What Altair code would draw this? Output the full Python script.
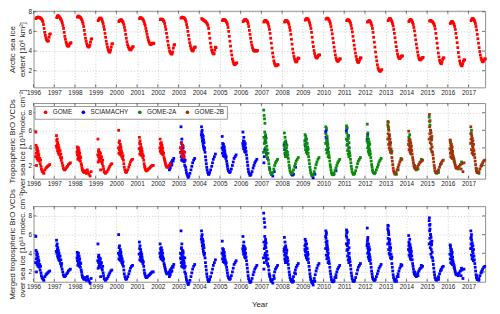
import altair as alt
import pandas as pd

YEARS = list(range(1996, 2018))
YTICKS = [2, 4, 6, 8]
INSTRUMENTS = ["GOME", "SCIAMACHY", "GOME-2A", "GOME-2B"]
COLORS = ["#ff0000", "#0000ff", "#0a8a0a", "#a0320a"]

# ---- Arctic sea ice extent (10^6 km^2), sampled at fractions of each year
ICE_OFF = [0.12, 0.15, 0.18, 0.21, 0.24, 0.27, 0.30, 0.33, 0.36, 0.39, 0.42, 0.45,
           0.48, 0.51, 0.54, 0.57, 0.60, 0.63, 0.66, 0.69, 0.72, 0.75, 0.78, 0.81]
ICE = {
    1996: [7.3, 7.4, 7.4, 7.45, 7.45, 7.4, 7.4, 7.35, 7.3, 7.25, 7.15, 7.0, 6.7, 6.3, 5.9, 5.6, 5.35, 5.15, 5.05, 5.0, 5.05, 5.4, 5.7, 5.75],
    1997: [7.4, 7.55, 7.6, 7.55, 7.5, 7.4, 7.3, 7.2, 7.05, 6.85, 6.6, 6.3, 5.9, 5.5, 5.2, 4.9, 4.7, 4.55, 4.5, 4.5, 4.6, 4.75, 4.8, 4.85],
    1998: [7.45, 7.55, 7.55, 7.5, 7.45, 7.4, 7.3, 7.2, 7.0, 6.8, 6.5, 6.1, 5.7, 5.3, 5.0, 4.75, 4.55, 4.45, 4.4, 4.45, 4.6, 4.9, 5.2, 5.25],
    1999: [7.1, 7.2, 7.3, 7.35, 7.35, 7.3, 7.2, 7.0, 6.8, 6.5, 6.2, 5.8, 5.4, 5.0, 4.7, 4.4, 4.15, 4.0, 3.9, 3.9, 4.1, 4.4, 4.7, 4.75],
    2000: [7.0, 7.1, 7.15, 7.15, 7.2, 7.1, 7.0, 6.9, 6.7, 6.4, 6.1, 5.7, 5.3, 4.95, 4.65, 4.45, 4.3, 4.2, 4.15, 4.1, 4.2, 4.3, 4.4, 4.45],
    2001: [7.3, 7.4, 7.4, 7.35, 7.3, 7.25, 7.15, 7.0, 6.8, 6.6, 6.3, 6.0, 5.7, 5.4, 5.15, 4.95, 4.8, 4.7, 4.65, 4.7, 4.75, 4.8, 4.75, 4.8],
    2002: [7.2, 7.25, 7.25, 7.2, 7.2, 7.1, 7.0, 6.8, 6.5, 6.2, 5.8, 5.4, 5.0, 4.6, 4.3, 4.0, 3.85, 3.75, 3.7, 3.7, 3.9, 4.3, 4.6, 4.65],
    2003: [7.35, 7.4, 7.45, 7.4, 7.4, 7.35, 7.3, 7.2, 7.0, 6.7, 6.4, 6.0, 5.6, 5.2, 4.85, 4.55, 4.3, 4.15, 4.05, 4.0, 4.1, 4.3, 4.4, 4.4],
    2004: [7.3, 7.25, 7.2, 7.15, 7.1, 7.05, 7.0, 6.95, 6.85, 6.75, 6.6, 6.3, 5.8, 5.3, 4.8, 4.4, 4.1, 3.9, 3.8, 3.7, 3.75, 4.1, 4.4, 4.35],
    2005: [7.1, 7.2, 7.2, 7.2, 7.15, 7.1, 7.0, 6.9, 6.7, 6.4, 6.0, 5.5, 5.0, 4.5, 4.0, 3.6, 3.2, 2.95, 2.75, 2.65, 2.6, 2.7, 2.75, 2.8],
    2006: [7.0, 7.1, 7.15, 7.2, 7.2, 7.15, 7.1, 7.0, 6.8, 6.5, 6.1, 5.7, 5.3, 4.9, 4.6, 4.35, 4.15, 4.05, 4.0, 4.0, 4.05, 4.0, 4.0, 4.05],
    2007: [6.95, 7.05, 7.1, 7.1, 7.05, 7.0, 6.9, 6.75, 6.5, 6.2, 5.8, 5.3, 4.8, 4.3, 3.8, 3.4, 3.0, 2.75, 2.6, 2.5, 2.5, 2.55, 2.6, 2.6],
    2008: [6.95, 7.05, 7.1, 7.1, 7.05, 7.0, 6.9, 6.7, 6.4, 6.1, 5.7, 5.2, 4.7, 4.2, 3.8, 3.45, 3.2, 3.0, 2.9, 2.9, 3.0, 3.2, 3.3, 3.25],
    2009: [7.15, 7.25, 7.3, 7.3, 7.25, 7.2, 7.05, 6.85, 6.6, 6.3, 5.9, 5.4, 4.9, 4.45, 4.05, 3.75, 3.5, 3.35, 3.3, 3.3, 3.4, 3.55, 3.6, 3.6],
    2010: [7.25, 7.3, 7.35, 7.3, 7.25, 7.15, 7.0, 6.8, 6.5, 6.15, 5.75, 5.3, 4.85, 4.4, 4.0, 3.6, 3.3, 3.1, 3.0, 2.95, 3.0, 3.1, 3.2, 3.2],
    2011: [7.1, 7.15, 7.2, 7.15, 7.1, 7.0, 6.85, 6.6, 6.3, 5.95, 5.5, 5.05, 4.6, 4.2, 3.8, 3.45, 3.15, 2.95, 2.85, 2.85, 2.95, 3.15, 3.3, 3.3],
    2012: [6.95, 7.0, 7.05, 7.1, 7.05, 6.95, 6.8, 6.6, 6.3, 5.9, 5.4, 4.9, 4.4, 3.9, 3.4, 3.0, 2.6, 2.3, 2.1, 2.0, 1.95, 1.95, 2.05, 2.1],
    2013: [7.1, 7.2, 7.3, 7.3, 7.25, 7.15, 7.0, 6.8, 6.55, 6.2, 5.8, 5.35, 4.9, 4.45, 4.05, 3.7, 3.45, 3.3, 3.25, 3.25, 3.35, 3.45, 3.5, 3.5],
    2014: [7.0, 7.1, 7.2, 7.2, 7.15, 7.05, 6.9, 6.7, 6.4, 6.05, 5.6, 5.15, 4.7, 4.3, 3.9, 3.55, 3.3, 3.15, 3.1, 3.1, 3.2, 3.3, 3.3, 3.35],
    2015: [7.05, 7.1, 7.1, 7.05, 7.0, 6.95, 6.85, 6.75, 6.55, 6.25, 5.8, 5.3, 4.8, 4.3, 3.8, 3.4, 3.05, 2.85, 2.75, 2.7, 2.9, 3.15, 3.3, 3.3],
    2016: [6.8, 6.9, 7.0, 7.0, 6.95, 6.85, 6.7, 6.5, 6.2, 5.8, 5.35, 4.85, 4.35, 3.85, 3.4, 3.0, 2.75, 2.6, 2.5, 2.5, 2.7, 2.95, 3.1, 3.1],
    2017: [7.1, 7.2, 7.3, 7.3, 7.25, 7.15, 7.0, 6.8, 6.5, 6.15, 5.7, 5.25, 4.8, 4.35, 3.95, 3.6, 3.3, 3.1, 2.95, 2.9, 2.95, 3.1, 3.2, 3.2],
}

# ---- Tropospheric BrO VCDs over sea ice (10^13 molec cm^-2)
BRO_OFF = [0.10, 0.11, 0.12, 0.13, 0.14, 0.15, 0.16, 0.17, 0.18, 0.19, 0.20, 0.21,
           0.22, 0.23, 0.24, 0.26, 0.28, 0.30, 0.32, 0.34, 0.36, 0.38, 0.41, 0.44,
           0.47, 0.50, 0.55, 0.60, 0.64, 0.68, 0.73, 0.78]
BRO = {
    1996: [3.0, 5.8, 4.3, 3.4, 2.0, 3.8, 4.1, 2.8, 3.5, 3.9, 3.1, 2.6, 3.6, 3.3, 2.9, 3.2, 2.5, 2.8, 2.2, 2.6, 1.9, 1.6, 1.4, 1.3, 1.2, 1.1, 1.5, 1.7, 1.8, 1.9, 2.0, 2.1],
    1997: [4.2, 5.4, 4.8, 4.0, 5.0, 4.4, 3.7, 4.6, 4.1, 3.5, 4.3, 3.8, 3.3, 4.0, 3.6, 3.2, 3.7, 2.9, 3.3, 2.6, 2.9, 2.3, 2.0, 1.7, 1.55, 1.5, 1.6, 1.8, 1.9, 2.1, 2.2, 2.3],
    1998: [3.5, 4.1, 3.2, 3.8, 2.7, 3.6, 3.0, 4.0, 3.3, 2.8, 3.7, 3.1, 2.6, 3.4, 3.0, 2.5, 2.9, 2.2, 2.0, 1.7, 1.5, 1.4, 1.3, 1.2, 1.4, 1.3, 1.1, 1.5, 1.2, 1.0, 0.8, 1.3],
    1999: [3.2, 5.0, 2.4, 3.6, 3.0, 3.8, 2.6, 3.3, 2.9, 3.5, 2.5, 3.1, 2.7, 3.4, 1.5, 2.8, 3.0, 2.4, 2.2, 2.6, 1.9, 1.6, 1.3, 1.2, 1.1, 1.2, 1.3, 1.5, 1.7, 1.9, 2.1, 2.2],
    2000: [4.0, 6.0, 3.4, 4.6, 3.8, 4.8, 3.3, 4.2, 3.6, 4.4, 3.9, 3.2, 4.1, 3.5, 3.7, 3.0, 3.4, 2.8, 3.1, 2.6, 2.2, 1.8, 1.5, 1.3, 1.2, 1.3, 1.5, 1.8, 2.1, 2.4, 2.6, 2.7],
    2001: [3.9, 5.2, 4.5, 3.3, 4.8, 4.0, 3.6, 4.4, 3.2, 4.1, 3.7, 3.4, 3.9, 3.1, 3.6, 3.3, 2.9, 3.1, 2.6, 2.2, 1.9, 1.7, 1.5, 1.4, 1.4, 1.5, 1.6, 1.7, 1.8, 1.9, 2.0, 2.0],
    2002: [4.0, 5.0, 3.6, 4.5, 3.8, 4.2, 3.4, 4.6, 3.9, 3.5, 4.3, 3.7, 3.3, 4.0, 3.6, 3.2, 3.4, 2.9, 2.7, 2.5, 2.3, 2.1, 1.9, 1.8, 1.8, 1.9, 2.0, 2.2, None, None, None, None],
    2003: [3.5, 4.0, 6.4, 3.0, 4.6, 2.6, 5.0, 3.8, 2.9, 4.3, 3.3, 2.5, 4.0, 3.6, 2.8, 3.1, 2.4, 2.0, 2.6, 1.8, 1.5, 1.2, 1.0, 0.8, 0.65, 0.8, 1.1, 1.5, 1.9, 2.3, 2.6, 2.8],
    2004: [5.5, 6.4, 5.8, 5.2, 6.0, 4.8, 5.5, 5.0, 4.5, 5.3, 4.2, 4.9, 4.0, 4.6, 3.8, 4.0, 3.5, 3.0, 2.6, 2.2, 1.8, 1.5, 1.2, 1.0, 1.0, 1.2, 1.5, 1.9, 2.3, 2.7, 3.0, 3.3],
    2005: [4.0, 5.3, 3.4, 4.5, 3.8, 4.2, 3.1, 4.4, 3.6, 3.9, 3.3, 4.1, 3.0, 3.7, 3.4, 3.2, 2.8, 3.0, 2.5, 2.2, 1.9, 1.6, 1.4, 1.3, 1.2, 1.3, 1.6, 2.0, 2.4, 2.8, 3.0, 3.2],
    2006: [4.5, 5.8, 4.2, 4.8, 3.9, 5.2, 4.4, 4.0, 4.7, 3.6, 4.3, 3.8, 4.5, 3.5, 4.0, 3.6, 3.2, 2.8, 2.4, 2.0, 1.6, 1.3, 1.1, 0.9, 0.9, 1.0, 1.3, 1.7, 2.0, 2.3, 2.5, 2.7],
    2007: [3.5, 8.3, 5.2, 7.7, 4.5, 7.3, 5.8, 6.8, 4.9, 4.0, 5.5, 3.6, 4.6, 5.1, 3.2, 4.2, 3.8, 2.9, 3.4, 2.6, 2.2, 1.8, 1.5, 1.2, 1.1, 1.0, 1.2, 1.6, 2.0, 2.3, 2.5, 2.7],
    2008: [4.2, 5.7, 4.6, 3.4, 5.2, 4.0, 3.0, 4.8, 3.7, 4.4, 3.3, 4.0, 3.6, 4.3, 3.1, 3.5, 3.2, 2.8, 2.4, 2.0, 1.7, 1.4, 1.2, 1.1, 1.1, 1.2, 1.5, 1.9, 2.2, 2.5, 2.7, 2.9],
    2009: [4.4, 5.5, 4.9, 3.8, 5.3, 4.2, 4.6, 3.5, 5.0, 4.0, 3.7, 4.5, 3.3, 4.1, 3.8, 3.4, 3.0, 2.6, 2.2, 1.8, 1.5, 1.2, 1.0, 0.9, 0.85, 1.0, 1.3, 1.7, 2.1, 2.4, 2.7, 2.9],
    2010: [4.5, 6.4, 5.6, 3.8, 6.2, 4.9, 3.4, 5.3, 4.2, 4.7, 3.6, 4.4, 3.0, 4.0, 3.5, 3.2, 2.9, 2.5, 2.1, 1.8, 1.5, 1.2, 1.0, 0.95, 0.95, 1.1, 1.4, 1.7, 2.0, 2.3, 2.5, 2.7],
    2011: [5.0, 6.5, 5.7, 4.3, 6.3, 4.8, 3.7, 5.4, 4.4, 3.3, 5.1, 4.0, 3.0, 4.6, 3.6, 3.4, 3.1, 2.7, 2.3, 1.9, 1.6, 1.3, 1.1, 1.0, 1.0, 1.1, 1.4, 1.8, 2.2, 2.5, 2.7, 2.9],
    2012: [4.8, 6.7, 5.3, 4.0, 5.7, 4.5, 3.6, 5.0, 4.2, 3.4, 4.7, 3.9, 3.2, 4.4, 3.6, 3.3, 2.9, 2.5, 2.1, 1.8, 1.5, 1.3, 1.2, 1.1, 1.1, 1.2, 1.5, 1.8, 2.1, 2.4, 2.6, 2.8],
    2013: [5.0, 7.0, 5.6, 6.4, 4.4, 6.0, 5.2, 4.0, 5.5, 4.7, 3.8, 5.0, 4.3, 3.5, 4.6, 3.9, 3.4, 2.9, 2.5, 2.1, 1.7, 1.4, 1.2, 1.1, 1.1, 1.2, 1.5, 1.8, 2.1, 2.4, 2.6, 2.7],
    2014: [4.4, 5.9, 4.8, 3.8, 5.0, 4.2, 4.6, 3.6, 4.9, 4.0, 3.4, 4.5, 3.9, 3.3, 4.2, 3.7, 3.3, 2.9, 2.6, 2.3, 2.0, 1.8, 1.7, 1.6, 1.6, 1.7, 1.9, 2.1, 2.3, 2.4, 2.5, 2.6],
    2015: [5.0, 7.8, 6.4, 5.6, 7.1, 4.6, 6.0, 5.2, 3.9, 5.7, 4.4, 4.9, 3.6, 5.3, 4.1, 3.5, 3.2, 2.8, 2.4, 2.0, 1.7, 1.4, 1.2, 1.2, 1.2, 1.3, 1.5, 1.8, 2.1, 2.3, 2.5, 2.6],
    2016: [3.9, 4.9, 3.4, 4.6, 3.0, 4.2, 3.7, 4.4, 2.9, 3.9, 3.3, 4.1, 2.8, 3.6, 3.2, 3.0, 2.8, 2.7, 2.4, 2.2, 2.0, 1.8, 1.7, 1.7, 1.8, 1.7, 1.9, 2.1, 1.6, 2.2, 1.3, 2.3],
    2017: [4.5, 6.4, 5.0, 5.7, 3.8, 5.4, 4.6, 3.4, 5.1, 4.2, 3.6, 4.8, 4.0, 3.2, 4.4, 3.7, 3.3, 2.9, 2.5, 2.1, 1.7, 1.4, 1.2, 1.2, 1.2, 1.3, 1.6, 1.9, 2.1, 2.3, 2.5, 2.6],
}
BRO_INST = {y: ("GOME" if y <= 2002 else "SCIAMACHY" if y <= 2006
                else "GOME-2A" if y <= 2012 else "GOME-2B") for y in YEARS}

# overlapping instruments: (year, fraction, value, instrument, layer 0=below 2=above)
EXTRA = [
    (2002, 0.56, 1.5, "SCIAMACHY", 0), (2002, 0.58, 1.9, "SCIAMACHY", 0), (2002, 0.60, 1.7, "SCIAMACHY", 0),
    (2002, 0.62, 2.2, "SCIAMACHY", 0), (2002, 0.64, 2.0, "SCIAMACHY", 0), (2002, 0.66, 2.4, "SCIAMACHY", 0),
    (2002, 0.68, 2.1, "SCIAMACHY", 0), (2002, 0.71, 2.6, "SCIAMACHY", 0), (2002, 0.74, 2.5, "SCIAMACHY", 0),
    (2002, 0.77, 2.8, "SCIAMACHY", 0),
    (2003, 0.10, 4.0, "GOME", 2), (2003, 0.12, 3.4, "GOME", 2), (2003, 0.14, 4.5, "GOME", 2),
    (2003, 0.16, 3.8, "GOME", 2), (2003, 0.18, 3.0, "GOME", 2), (2003, 0.20, 3.6, "GOME", 2),
    (2003, 0.22, 4.2, "GOME", 2), (2003, 0.24, 3.2, "GOME", 2), (2003, 0.27, 2.9, "GOME", 2),
    (2003, 0.30, 3.5, "GOME", 2),
    (2007, 0.12, 2.3, "SCIAMACHY", 0), (2007, 0.14, 3.0, "SCIAMACHY", 0), (2007, 0.16, 3.8, "SCIAMACHY", 0),
    (2007, 0.18, 4.8, "SCIAMACHY", 0), (2007, 0.20, 5.3, "SCIAMACHY", 0), (2007, 0.25, 3.4, "SCIAMACHY", 0),
    (2007, 0.30, 2.8, "SCIAMACHY", 0), (2007, 0.40, 1.6, "SCIAMACHY", 0), (2007, 0.48, 1.0, "SCIAMACHY", 0),
    (2007, 0.55, 0.8, "SCIAMACHY", 0), (2007, 0.62, 1.3, "SCIAMACHY", 0),
    (2008, 0.10, 4.4, "SCIAMACHY", 0), (2008, 0.12, 3.8, "SCIAMACHY", 0), (2008, 0.15, 3.2, "SCIAMACHY", 0),
    (2008, 0.18, 4.6, "SCIAMACHY", 0), (2008, 0.22, 3.0, "SCIAMACHY", 0), (2008, 0.45, 1.0, "SCIAMACHY", 0),
    (2008, 0.50, 0.9, "SCIAMACHY", 0), (2008, 0.55, 1.0, "SCIAMACHY", 0), (2008, 0.65, 1.8, "SCIAMACHY", 0),
    (2009, 0.10, 4.8, "SCIAMACHY", 0), (2009, 0.12, 4.2, "SCIAMACHY", 0), (2009, 0.15, 5.0, "SCIAMACHY", 0),
    (2009, 0.18, 3.6, "SCIAMACHY", 0), (2009, 0.25, 3.9, "SCIAMACHY", 0), (2009, 0.45, 0.8, "SCIAMACHY", 0),
    (2009, 0.50, 0.6, "SCIAMACHY", 0), (2009, 0.58, 1.0, "SCIAMACHY", 0),
    (2010, 0.10, 5.8, "SCIAMACHY", 0), (2010, 0.12, 5.2, "SCIAMACHY", 0), (2010, 0.13, 6.0, "SCIAMACHY", 0),
    (2010, 0.15, 4.6, "SCIAMACHY", 0), (2010, 0.17, 5.0, "SCIAMACHY", 0), (2010, 0.20, 3.8, "SCIAMACHY", 0),
    (2010, 0.50, 1.0, "SCIAMACHY", 0), (2010, 0.60, 1.4, "SCIAMACHY", 0),
    (2011, 0.10, 5.9, "SCIAMACHY", 0), (2011, 0.12, 6.2, "SCIAMACHY", 0), (2011, 0.14, 5.0, "SCIAMACHY", 0),
    (2011, 0.16, 4.4, "SCIAMACHY", 0), (2011, 0.20, 5.4, "SCIAMACHY", 0), (2011, 0.24, 4.0, "SCIAMACHY", 0),
    (2012, 0.11, 5.0, "SCIAMACHY", 0), (2012, 0.13, 5.5, "SCIAMACHY", 0), (2012, 0.15, 4.6, "SCIAMACHY", 0),
    (2012, 0.17, 4.2, "SCIAMACHY", 0), (2012, 0.20, 3.8, "SCIAMACHY", 0),
    (2013, 0.10, 6.6, "GOME-2A", 0), (2013, 0.12, 6.9, "GOME-2A", 0), (2013, 0.14, 6.2, "GOME-2A", 0),
    (2013, 0.18, 5.4, "GOME-2A", 0), (2013, 0.30, 3.6, "GOME-2A", 0), (2013, 0.45, 1.0, "GOME-2A", 0),
    (2013, 0.52, 1.0, "GOME-2A", 0), (2013, 0.60, 1.5, "GOME-2A", 0), (2013, 0.74, 2.8, "GOME-2A", 0),
    (2014, 0.12, 5.2, "GOME-2A", 0), (2014, 0.16, 5.5, "GOME-2A", 0), (2014, 0.20, 4.6, "GOME-2A", 0),
    (2014, 0.40, 2.0, "GOME-2A", 0), (2014, 0.48, 1.5, "GOME-2A", 0), (2014, 0.56, 1.6, "GOME-2A", 0),
    (2014, 0.72, 2.7, "GOME-2A", 0),
    (2015, 0.10, 7.5, "GOME-2A", 0), (2015, 0.12, 7.0, "GOME-2A", 0), (2015, 0.14, 6.6, "GOME-2A", 0),
    (2015, 0.17, 6.0, "GOME-2A", 0), (2015, 0.22, 5.0, "GOME-2A", 0), (2015, 0.46, 1.1, "GOME-2A", 0),
    (2015, 0.55, 1.2, "GOME-2A", 0), (2015, 0.68, 2.2, "GOME-2A", 0),
    (2016, 0.12, 4.8, "GOME-2A", 0), (2016, 0.15, 4.4, "GOME-2A", 0), (2016, 0.20, 3.4, "GOME-2A", 0),
    (2016, 0.30, 2.5, "GOME-2A", 0), (2016, 0.50, 1.6, "GOME-2A", 0), (2016, 0.66, 2.4, "GOME-2A", 0),
    (2017, 0.11, 5.6, "GOME-2A", 0), (2017, 0.14, 6.0, "GOME-2A", 0), (2017, 0.18, 4.8, "GOME-2A", 0),
    (2017, 0.40, 1.6, "GOME-2A", 0), (2017, 0.50, 1.1, "GOME-2A", 0), (2017, 0.64, 2.0, "GOME-2A", 0),
]

# ---------------- build tables
ice_rows = [{"t": y + o, "v": v} for y in YEARS for o, v in zip(ICE_OFF, ICE[y])]
ice_df = pd.DataFrame(ice_rows)

bro_rows = []
for y in YEARS:
    for o, v in zip(BRO_OFF, BRO[y]):
        if v is not None:
            bro_rows.append({"t": y + o, "v": v, "inst": BRO_INST[y], "z": 1})
for (y, o, v, inst, z) in EXTRA:
    bro_rows.append({"t": y + o, "v": v, "inst": inst, "z": z})
bro_df = pd.DataFrame(bro_rows).sort_values("z", kind="stable").reset_index(drop=True)

xtick_df = pd.DataFrame({"t": YEARS})
ytick_df = pd.DataFrame({"v": YTICKS})

FONT = "Liberation Sans"
TICKC = "#4d4d4d"
GRID = dict(grid=True, gridDash=[1, 2], gridColor="#c4c4c4", gridWidth=0.8,
            ticks=False, domain=False, labelFontSize=6.5, labelColor="#222222",
            labelFont=FONT)
XDOM = [1996, 2017.8]
XSCALE = alt.Scale(domain=XDOM, nice=False, zero=False)
W = 460


def xenc(title=None):
    if title is None:
        ax = alt.Axis(values=YEARS, format="d", labelFlush=False, labelOverlap=False,
                      labelPadding=2, title=None, **GRID)
        return alt.X("t:Q", scale=XSCALE, axis=ax)
    ax = alt.Axis(values=YEARS, format="d", labelFlush=False, labelOverlap=False,
                  labelPadding=2, titleFontSize=8, titleFontWeight="normal",
                  titleFont=FONT, titleColor="#222222", titlePadding=11, **GRID)
    return alt.X("t:Q", title=title, scale=XSCALE, axis=ax)


def yenc(title, dom):
    return alt.Y("v:Q", title=title,
                 scale=alt.Scale(domain=dom, nice=False, zero=False),
                 axis=alt.Axis(values=YTICKS, labelPadding=2, titleFontSize=8,
                               titleFontWeight="normal", titleFont=FONT,
                               titleColor="#222222", titlePadding=2, titleLineHeight=9.5,
                               **GRID))


def frame_ticks(x, y, h):
    """inward tick marks on all four sides of a panel"""
    top = alt.Chart(xtick_df).mark_rule(color=TICKC, strokeWidth=0.8).encode(
        x=x, y=alt.value(0), y2=alt.value(3))
    bot = alt.Chart(xtick_df).mark_rule(color=TICKC, strokeWidth=0.8).encode(
        x=x, y=alt.value(h - 3), y2=alt.value(h))
    left = alt.Chart(ytick_df).mark_rule(color=TICKC, strokeWidth=0.8).encode(
        y=y, x=alt.value(0), x2=alt.value(3))
    right = alt.Chart(ytick_df).mark_rule(color=TICKC, strokeWidth=0.8).encode(
        y=y, x=alt.value(W - 3), x2=alt.value(W))
    return [top, bot, left, right]


H1, H2, H3 = 78, 77, 77

x1 = xenc()
y1 = yenc(["Arctic sea ice", "extent [10⁶ km²]"], [0.3, 8.1])
p1 = alt.layer(
    alt.Chart(ice_df).mark_square(size=8, color="#ff0000", opacity=1).encode(x=x1, y=y1),
    *frame_ticks(x1, y1, H1),
).properties(width=W, height=H1)

x2 = xenc()
y2 = yenc(["Tropospheric BrO VCDs", "over sea ice [10¹³molec. cm⁻²]"], [0.5, 9.1])
p2 = alt.layer(
    alt.Chart(bro_df).mark_square(size=8, opacity=1).encode(
        x=x2, y=y2,
        color=alt.Color("inst:N", scale=alt.Scale(domain=INSTRUMENTS, range=COLORS),
                        legend=alt.Legend(orient="none", legendX=1, legendY=3,
                                          direction="horizontal", columns=4, title=None,
                                          symbolType="circle", symbolSize=14,
                                          symbolStrokeWidth=0, labelFontSize=6.5,
                                          labelFont=FONT, labelColor="#222222",
                                          padding=3, strokeColor="#999999",
                                          fillColor="white", columnPadding=2.5,
                                          symbolOffset=5, labelOffset=4)),
    ),
    *frame_ticks(x2, y2, H2),
).properties(width=W, height=H2)

x3 = xenc("Year")
y3 = yenc(["Merged tropospheric BrO VCDs", "over sea ice [10¹³ molec. cm⁻²]"], [0.95, 9.05])
p3 = alt.layer(
    alt.Chart(bro_df).mark_square(size=8, color="#0000ff", opacity=1).encode(x=x3, y=y3),
    *frame_ticks(x3, y3, H3),
).properties(width=W, height=H3)

SPACER_DF = pd.DataFrame({"a": [0]})


def spacer(h):
    return alt.Chart(SPACER_DF).mark_point(opacity=0).encode(
        x=alt.X("a:Q", axis=None), y=alt.Y("a:Q", axis=None)
    ).properties(width=W, height=h, view=alt.ViewBackground(stroke="transparent"))


chart = alt.vconcat(p1, spacer(16), p2, spacer(28), p3, spacing=0, bounds="flush").resolve_scale(
    color="independent", x="independent", y="independent").resolve_legend(color="independent").properties(
    padding={"left": 0, "top": -3, "right": 4, "bottom": 0}
).configure(font=FONT).configure_view(stroke="#8f8f8f", strokeWidth=1)

chart.save("out.html", embed_options={"renderer": "svg", "actions": False})
